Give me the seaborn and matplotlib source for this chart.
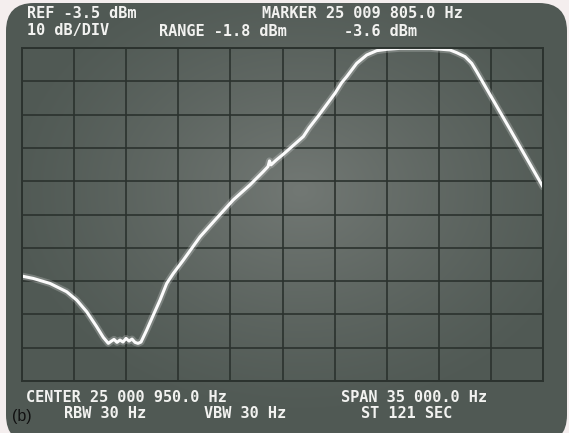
import numpy as np
import pandas as pd
import matplotlib
matplotlib.use("Agg")
import matplotlib.pyplot as plt
from matplotlib.patches import FancyBboxPatch
import seaborn as sns

# Analyzer settings
ref_level_dbm = -3.5
db_per_div = 10
center_hz = 25_000_950.0
span_hz = 35_000.0
start_hz = center_hz - span_hz / 2
stop_hz = center_hz + span_hz / 2

# Swept trace: frequency (Hz) and displayed level (dBm)
trace_freq_hz = [
    24_983_450, 24_984_209, 24_985_331, 24_986_453, 24_987_125, 24_987_797,
    24_988_468, 24_988_912, 24_989_248, 24_989_429, 24_989_631, 24_989_832,
    24_990_034, 24_990_235, 24_990_437, 24_990_638, 24_990_840, 24_991_041,
    24_991_243, 24_991_444, 24_991_827, 24_992_271, 24_992_721, 24_993_171,
    24_993_614, 24_994_286, 24_995_408, 24_996_530, 24_997_645, 24_998_767,
    24_999_661, 24_999_976, 25_000_077, 25_000_178, 25_000_514, 25_001_004,
    25_002_348, 25_002_731, 25_003_355, 25_004_477, 25_004_927, 25_005_263,
    25_005_935, 25_006_607, 25_007_279, 25_007_950, 25_008_844, 25_009_805,
    25_010_859, 25_012_203, 25_012_653, 25_013_211, 25_013_661, 25_013_997,
    25_016_234, 25_018_450,
]
trace_level_dbm = [
    -72.0, -72.7, -74.2, -76.7, -79.2, -82.7,
    -87.2, -90.4, -92.2, -91.6, -91.0, -91.9,
    -91.2, -91.8, -90.7, -91.5, -90.9, -91.9,
    -92.2, -91.8, -88.2, -83.7, -79.2, -74.2,
    -71.2, -67.2, -60.2, -54.6, -49.1, -44.6,
    -40.6, -39.1, -37.4, -38.6, -37.2, -35.4,
    -30.1, -27.5, -23.9, -17.1, -13.9, -12.1,
    -8.1, -5.6, -4.3, -3.9, -3.6, -3.6,
    -3.6, -4.1, -4.9, -6.1, -8.1, -10.6,
    -27.9, -45.2,
]

marker_freq_hz = 25_009_805.0
marker_level_dbm = -3.6
range_dbm = -1.8
rbw_hz = 30
vbw_hz = 30
sweep_s = 121

df = pd.DataFrame({"freq": trace_freq_hz, "level": trace_level_dbm})

W, H = 569, 433
fig = plt.figure(figsize=(W / 100, H / 100), dpi=100)
fig.patch.set_facecolor("#f4eeee")

sns.set_style("dark")

# CRT face with a soft central glow
bg = fig.add_axes([0, 0, 1, 1], zorder=0)
bg.set_xlim(0, W)
bg.set_ylim(H, 0)
bg.axis("off")
yy, xx = np.mgrid[0:H, 0:W]
r = np.sqrt(((xx - 300) / 300.0) ** 2 + ((yy - 190) / 230.0) ** 2)
glow = np.clip(1 - r, 0, 1)
base = np.array([0x50, 0x59, 0x54]) / 255.0
hi = np.array([0x72, 0x78, 0x74]) / 255.0
img = base[None, None, :] + (hi - base)[None, None, :] * glow[..., None] ** 1.2
face = FancyBboxPatch((6, 3), 561, 440, boxstyle="round,pad=0,rounding_size=28",
                      transform=bg.transData, facecolor="none", edgecolor="none")
bg.add_patch(face)
im = bg.imshow(img, extent=(0, W, H, 0), interpolation="bilinear")
im.set_clip_path(face)

# Graticule area: 10 x 10 divisions
gx0, gx1, gy0, gy1 = 22, 543, 48, 381
ax = fig.add_axes([gx0 / W, 1 - gy1 / H, (gx1 - gx0) / W, (gy1 - gy0) / H], zorder=1)
ax.set_facecolor("none")
ax.set_xlim(start_hz, stop_hz)
ax.set_ylim(ref_level_dbm - 10 * db_per_div, ref_level_dbm)
ax.set_xticks(np.linspace(start_hz, stop_hz, 11))
ax.set_yticks(np.linspace(ref_level_dbm - 10 * db_per_div, ref_level_dbm, 11))
ax.tick_params(length=0, labelbottom=False, labelleft=False)
ax.grid(True, color="#2b322e", linewidth=1.2)
for s in ax.spines.values():
    s.set_visible(True)
    s.set_color("#2b322e")
    s.set_linewidth(1.4)

# trace glow + core
sns.lineplot(data=df, x="freq", y="level", ax=ax, sort=False, color="white",
             linewidth=5, alpha=0.22, legend=False)
sns.lineplot(data=df, x="freq", y="level", ax=ax, sort=False, color="#fbfbfb",
             linewidth=2.2, legend=False)
ax.lines[-1].set_solid_joinstyle("round")
ax.set_xlabel("")
ax.set_ylabel("")

# On-screen annotations
mono = dict(family="DejaVu Sans Mono", weight="bold", color="#f2f2f0",
            fontsize=11.0, va="center", ha="left")


def put(x, y, s):
    bg.text(x, y, s, **mono)


def grp(v):
    return f"{v:,.1f}".replace(",", " ")


put(27, 14, f"REF {ref_level_dbm:.1f} dBm")
put(262, 14, f"MARKER {grp(marker_freq_hz)} Hz")
put(27, 31, f"{db_per_div} dB/DIV")
put(159, 31, f"RANGE {range_dbm:.1f} dBm")
put(344, 31, f"{marker_level_dbm:.1f} dBm")
put(26, 397, f"CENTER {grp(center_hz)} Hz")
put(341, 397, f"SPAN {grp(span_hz)} Hz")
put(64, 413, f"RBW {rbw_hz} Hz")
put(204, 413, f"VBW {vbw_hz} Hz")
put(361, 413, f"ST {sweep_s} SEC")
bg.text(12, 417, "(b)", family="Liberation Sans", fontsize=11.5, color="#111111",
        va="center", ha="left")

fig.savefig("out.png", dpi=100, facecolor=fig.get_facecolor())
